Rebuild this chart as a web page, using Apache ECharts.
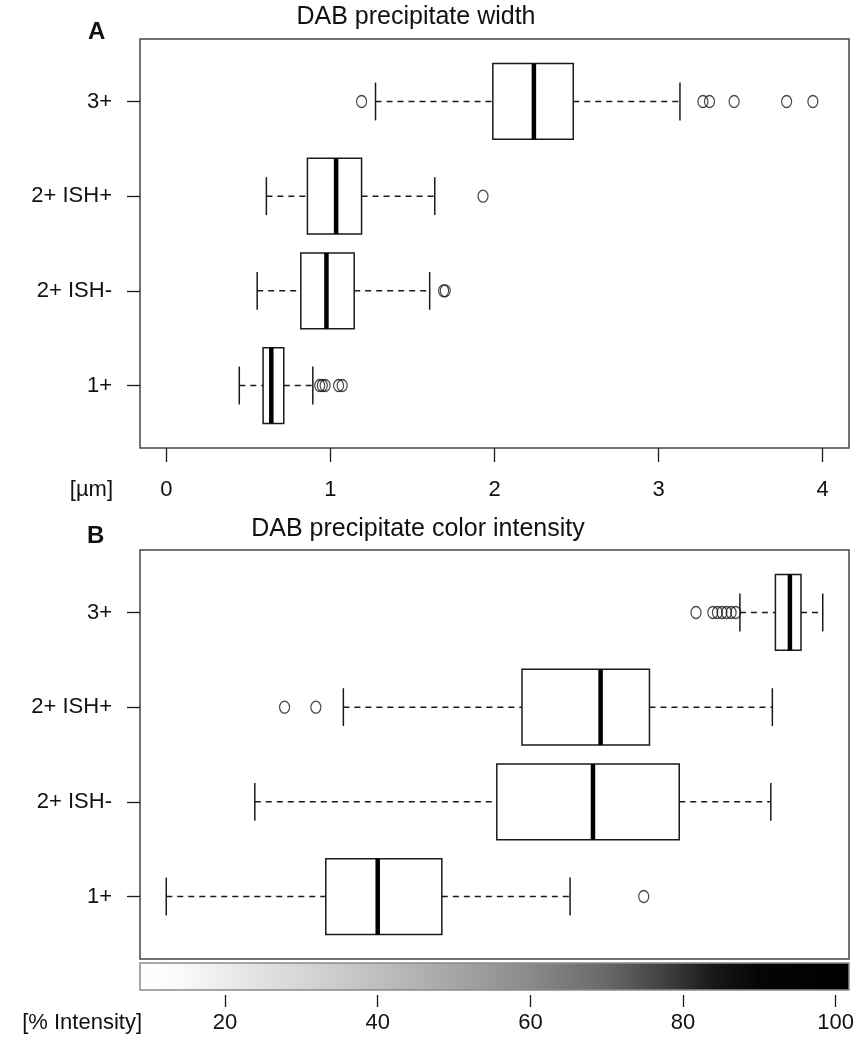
<!DOCTYPE html>
<html>
<head>
<meta charset="utf-8">
<script src="https://cdn.jsdelivr.net/npm/echarts@6/dist/echarts.min.js"></script>
<style>
  html, body { margin: 0; padding: 0; background: #fff; }
  #chart { width: 861px; height: 1050px; }
</style>
</head>
<body>
<div id="chart"></div>
<script>
// Groups, listed bottom to top (y positions 1..4)
const categories = ['1+', '2+ ISH-', '2+ ISH+', '3+'];

// Tick labels
const widthTicks = [0, 1, 2, 3, 4];
const intensityTicks = [20, 40, 60, 80, 100];

// Precipitate width [µm]: lower whisker, Q1, median, Q3, upper whisker
const widthStats = [
  [0.445, 0.59, 0.64, 0.716, 0.893],
  [0.554, 0.82, 0.976, 1.145, 1.605],
  [0.61, 0.86, 1.035, 1.19, 1.636],
  [1.275, 1.99, 2.24, 2.48, 3.13]
];
const widthOutliers = [
  [0.935, 0.951, 0.968, 1.05, 1.072],
  [1.69, 1.70],
  [1.93],
  [1.19, 3.27, 3.31, 3.46, 3.78, 3.94]
];

// Colour intensity [%]: lower whisker, Q1, median, Q3, upper whisker
const intensityStats = [
  [12.3, 33.2, 40.0, 48.4, 65.2],
  [23.9, 55.6, 68.2, 79.5, 91.5],
  [35.5, 58.9, 69.2, 75.6, 91.7],
  [87.45, 92.1, 94.0, 95.45, 98.3]
];
const intensityOutliers = [
  [74.85],
  [],
  [27.8, 31.9],
  [81.7, 83.9, 84.5, 85.1, 85.7, 86.3, 86.9]
];

// Grey level (0-255) of the intensity colour scale at given intensity values
const scaleStops = [
  [8.86, 255], [14, 250], [20, 236], [30, 214], [40, 190], [50, 166],
  [60, 138], [70, 104], [78, 62], [84, 24], [90, 5], [101.74, 0]
];

const INK = '#1a1a1a';
const FONT = '"Liberation Sans", Arial, Helvetica, sans-serif';
const BOX_HALF = 0.4;   // half box thickness in y units
const CAP_HALF = 0.2;   // half whisker-cap length in y units

function boxRender(params, api) {
  const pos = api.value(0);
  const lo = api.coord([api.value(1), pos]);
  const q1 = api.coord([api.value(2), pos]);
  const med = api.coord([api.value(3), pos]);
  const q3 = api.coord([api.value(4), pos]);
  const hi = api.coord([api.value(5), pos]);
  const half = api.size([0, BOX_HALF])[1];
  const cap = api.size([0, CAP_HALF])[1];
  const y = lo[1];
  const dash = { stroke: INK, lineWidth: 1.5, lineDash: [6, 5] };
  const solid = { stroke: INK, lineWidth: 1.5 };
  return {
    type: 'group',
    children: [
      { type: 'line', shape: { x1: lo[0], y1: y, x2: q1[0], y2: y }, style: dash },
      { type: 'line', shape: { x1: q3[0], y1: y, x2: hi[0], y2: y }, style: dash },
      { type: 'line', shape: { x1: lo[0], y1: y - cap, x2: lo[0], y2: y + cap }, style: solid },
      { type: 'line', shape: { x1: hi[0], y1: y - cap, x2: hi[0], y2: y + cap }, style: solid },
      { type: 'rect', shape: { x: q1[0], y: y - half, width: q3[0] - q1[0], height: 2 * half },
        style: { fill: '#fff', stroke: INK, lineWidth: 1.5 } },
      { type: 'line', shape: { x1: med[0], y1: y - half, x2: med[0], y2: y + half },
        style: { stroke: '#000', lineWidth: 4.5 } }
    ]
  };
}

function colorBarRender(params, api) {
  const first = scaleStops[0][0];
  const last = scaleStops[scaleStops.length - 1][0];
  const p0 = api.coord([first, 1]);
  const p1 = api.coord([last, 0]);
  const span = p1[0] - p0[0];
  const colorStops = scaleStops.map(function (s) {
    const g = s[1];
    return { offset: (api.coord([s[0], 0])[0] - p0[0]) / span, color: 'rgb(' + g + ',' + g + ',' + g + ')' };
  });
  return {
    type: 'rect',
    shape: { x: p0[0], y: p0[1], width: span, height: p1[1] - p0[1] },
    style: {
      fill: { type: 'linear', x: p0[0], y: 0, x2: p1[0], y2: 0, global: true, colorStops: colorStops },
      stroke: '#8a8a8a', lineWidth: 1.5
    }
  };
}

const boxData = stats => stats.map((s, i) => [i + 1].concat(s));
const outlierData = lists => {
  const out = [];
  lists.forEach((vals, i) => vals.forEach(v => out.push([v, i + 1])));
  return out;
};

const ellipse = 'path://M0,5a5,5 0 1,0 10,0a5,5 0 1,0 -10,0z';

const yAxisCommon = {
  type: 'value', min: 0.34, max: 4.66,
  splitLine: { show: false },
  axisLine: { show: false, onZero: false },
  axisTick: { show: true, length: 13, customValues: [1, 2, 3, 4], lineStyle: { color: INK, width: 1.3 } },
  axisLabel: {
    customValues: [1, 2, 3, 4], margin: 28,
    formatter: v => categories[Math.round(v) - 1],
    fontSize: 22, color: '#111', fontFamily: FONT
  }
};

const chart = echarts.init(document.getElementById('chart'), null, { renderer: 'canvas' });
chart.setOption({
  animation: false,
  backgroundColor: '#fff',
  grid: [
    { left: 140, top: 39, width: 709, height: 409, show: true, borderColor: '#444', borderWidth: 1.5 },
    { left: 140, top: 550, width: 709, height: 409, show: true, borderColor: '#444', borderWidth: 1.5 },
    { left: 140, top: 963, width: 709, height: 27, show: false }
  ],
  xAxis: [
    {
      gridIndex: 0, type: 'value', min: -0.16, max: 4.16,
      splitLine: { show: false }, axisLine: { show: false, onZero: false },
      axisTick: { show: true, length: 14, customValues: widthTicks, lineStyle: { color: INK, width: 1.3 } },
      axisLabel: { customValues: widthTicks, margin: 31, fontSize: 22, color: '#111', fontFamily: FONT }
    },
    {
      gridIndex: 1, type: 'value', min: 8.86, max: 101.74,
      splitLine: { show: false }, axisLine: { show: false, onZero: false },
      axisTick: { show: false }, axisLabel: { show: false }
    },
    {
      gridIndex: 2, type: 'value', min: 8.86, max: 101.74, offset: 5,
      splitLine: { show: false }, axisLine: { show: false, onZero: false },
      axisTick: { show: true, length: 12, customValues: intensityTicks, lineStyle: { color: INK, width: 1.3 } },
      axisLabel: { customValues: intensityTicks, margin: 17, fontSize: 22, color: '#111', fontFamily: FONT }
    }
  ],
  yAxis: [
    Object.assign({ gridIndex: 0 }, yAxisCommon),
    Object.assign({ gridIndex: 1 }, yAxisCommon),
    { gridIndex: 2, type: 'value', min: 0, max: 1, show: false }
  ],
  series: [
    {
      type: 'custom', xAxisIndex: 0, yAxisIndex: 0, renderItem: boxRender,
      data: boxData(widthStats), encode: { x: [1, 2, 3, 4, 5], y: 0 }, z: 2
    },
    {
      type: 'scatter', xAxisIndex: 0, yAxisIndex: 0, data: outlierData(widthOutliers),
      symbol: ellipse, symbolSize: [10, 12],
      itemStyle: { color: 'rgba(0,0,0,0)', borderColor: INK, borderWidth: 1.3 }, z: 3
    },
    {
      type: 'custom', xAxisIndex: 1, yAxisIndex: 1, renderItem: boxRender,
      data: boxData(intensityStats), encode: { x: [1, 2, 3, 4, 5], y: 0 }, z: 2
    },
    {
      type: 'scatter', xAxisIndex: 1, yAxisIndex: 1, data: outlierData(intensityOutliers),
      symbol: ellipse, symbolSize: [10, 12],
      itemStyle: { color: 'rgba(0,0,0,0)', borderColor: INK, borderWidth: 1.3 }, z: 3
    },
    {
      type: 'custom', xAxisIndex: 2, yAxisIndex: 2, renderItem: colorBarRender,
      data: [[scaleStops[0][0], 0]], encode: { x: 0, y: 1 }
    }
  ],
  graphic: [
    { type: 'text', left: 88, top: 20, style: { text: 'A', fontSize: 24, fontWeight: 'bold', fill: '#111', fontFamily: FONT } },
    { type: 'text', x: 416, y: 17, style: { text: 'DAB precipitate width', fontSize: 25, fill: '#111', fontFamily: FONT, align: 'center', verticalAlign: 'middle' } },
    { type: 'text', x: 113, y: 490, style: { text: '[µm]', fontSize: 22, fill: '#111', fontFamily: FONT, align: 'right', verticalAlign: 'middle' } },
    { type: 'text', left: 87, top: 524, style: { text: 'B', fontSize: 24, fontWeight: 'bold', fill: '#111', fontFamily: FONT } },
    { type: 'text', x: 418, y: 529, style: { text: 'DAB precipitate color intensity', fontSize: 25, fill: '#111', fontFamily: FONT, align: 'center', verticalAlign: 'middle' } },
    { type: 'text', x: 142, y: 1023, style: { text: '[% Intensity]', fontSize: 22, fill: '#111', fontFamily: FONT, align: 'right', verticalAlign: 'middle' } }
  ]
});
</script>
</body>
</html>
